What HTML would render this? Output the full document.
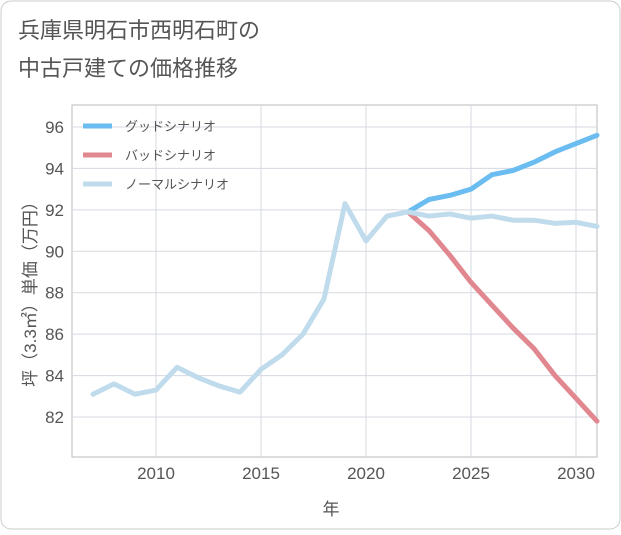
<!DOCTYPE html>
<html><head><meta charset="utf-8">
<style>
body{margin:0;background:#fff;font-family:"Liberation Sans","Noto Sans CJK JP",sans-serif;}
#wrap{position:relative;width:621px;height:530px;}
</style></head>
<body>
<div id="wrap">
<svg id="chart" width="621" height="530" xmlns="http://www.w3.org/2000/svg">
<rect x="1" y="1" width="619" height="528" rx="10" fill="#fff" stroke="#ccc"/>
<text x="18" y="38" font-size="22" fill="#555">兵庫県明石市西明石町の</text>
<text x="18" y="76" font-size="22" fill="#555">中古戸建ての価格推移</text>
<g id="grid"></g>
<g id="series"></g>
<text transform="translate(36,290) rotate(-90)" text-anchor="middle" font-size="17" fill="#555">坪（3.3㎡）単価（万円）</text>
<text x="331" y="515" text-anchor="middle" font-size="17" fill="#555">年</text>
<g>
<line x1="83" y1="126" x2="112" y2="126" stroke="#6bbcf0" stroke-width="5"/>
<text x="125" y="131" font-size="13" fill="#555">グッドシナリオ</text>
<line x1="83" y1="155" x2="112" y2="155" stroke="#e0878f" stroke-width="5"/>
<text x="125" y="160" font-size="13" fill="#555">バッドシナリオ</text>
<line x1="83" y1="184" x2="112" y2="184" stroke="#c0dcec" stroke-width="5"/>
<text x="125" y="189" font-size="13" fill="#555">ノーマルシナリオ</text>
</g>
</svg>
</div>
<script>
const normalYears=[2007,2008,2009,2010,2011,2012,2013,2014,2015,2016,2017,2018,2019,2020,2021,2022,2023,2024,2025,2026,2027,2028,2029,2030,2031];
const normalValues=[83.1,83.6,83.1,83.3,84.4,83.9,83.5,83.2,84.3,85.0,86.0,87.7,92.3,90.5,91.7,91.9,91.7,91.8,91.6,91.7,91.5,91.5,91.35,91.4,91.2];
const futureYears=[2022,2023,2024,2025,2026,2027,2028,2029,2030,2031];
const goodValues=[91.9,92.5,92.7,93.0,93.7,93.9,94.3,94.8,95.2,95.6];
const badValues=[91.9,91.0,89.8,88.5,87.4,86.3,85.3,84.0,82.9,81.8];
const yTicks=[82,84,86,88,90,92,94,96];
const xTicks=[2010,2015,2020,2025,2030];
const NS="http://www.w3.org/2000/svg";
const L=72,R=597,T=105,B=457;
const xs=y=>156+(y-2010)*21;
const ys=v=>127+(96-v)*(290/14);
const grid=document.getElementById('grid');
function mk(tag,attrs,parent){const e=document.createElementNS(NS,tag);for(const k in attrs)e.setAttribute(k,attrs[k]);parent.appendChild(e);return e;}
mk('rect',{x:L,y:T,width:R-L,height:B-T,fill:'none',stroke:'#bbb'},grid);
yTicks.forEach(v=>{
  const l=mk('line',{x1:L,x2:R,y1:ys(v),y2:ys(v),stroke:'#d5d9e0'},grid);
  
  
  const t=mk('text',{x:64,y:ys(v)+6,'text-anchor':'end','font-size':'17',fill:'#555'},grid);
  t.textContent=v;
  
  
});
xTicks.forEach(v=>{
  const l=mk('line',{x1:xs(v),x2:xs(v),y1:T,y2:B,stroke:'#d5d9e0'},grid);
  
  
  const t=mk('text',{x:xs(v),y:479,'text-anchor':'middle','font-size':'17',fill:'#555'},grid);
  t.textContent=v;
  
  
});
const series=document.getElementById('series');
function line(years,vals,color,name){
  const d=years.map((y,i)=>(i?'L':'M')+xs(y)+','+ys(vals[i])).join(' ');
  const p=mk('path',{d:d,fill:'none',stroke:color,'stroke-width':5,'stroke-linejoin':'round','stroke-linecap':'round'},series);
  
  
}
line(futureYears,goodValues,'#6bbcf0','good-scenario-line');
line(futureYears,badValues,'#e0878f','bad-scenario-line');
line(normalYears,normalValues,'#c0dcec','normal-scenario-line');
</script>
</body></html>
